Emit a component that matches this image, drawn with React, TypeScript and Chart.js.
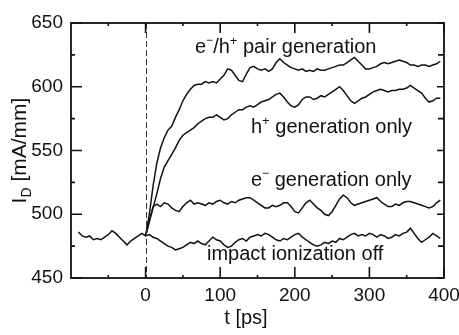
import { useEffect, useRef } from 'react';
import { Chart, registerables } from 'chart.js';

Chart.register(...registerables);

// ---- data (t in ps, I_D in mA/mm) ----
const T_PRE = [-90, -85, -80, -75, -70, -65, -60, -55, -50, -45, -40, -35, -30, -25, -20, -15, -10, -5];
const BASE_PRE = [486, 483, 482, 483, 480, 481, 480, 482, 484, 487, 485, 482, 479, 476, 479, 481, 483, 485];

const T = [
  0, 5, 10, 15, 20, 25, 30, 35, 40, 45, 50, 55, 60, 65, 70, 75, 80, 85, 90, 95,
  100, 105, 110, 115, 120, 125, 130, 135, 140, 145, 150, 155, 160, 165, 170, 175, 180, 185, 190, 195,
  200, 205, 210, 215, 220, 225, 230, 235, 240, 245, 250, 255, 260, 265, 270, 275, 280, 285, 290, 295,
  300, 305, 310, 315, 320, 325, 330, 335, 340, 345, 350, 355, 360, 365, 370, 375, 380, 385, 390, 395,
];

const OFF = [
  483, 484, 482, 481, 479, 477, 475, 474, 472, 473, 474, 476, 478, 477, 479, 477, 476, 479, 482, 480,
  479, 476, 474, 475, 478, 480, 481, 479, 482, 483, 484, 483, 485, 484, 482, 480, 479, 481, 480, 482,
  484, 485, 482, 480, 478, 476, 475, 476, 478, 477, 479, 478, 481, 480, 482, 484, 485, 483, 484, 483,
  485, 484, 482, 484, 483, 481, 482, 484, 483, 485, 486, 489, 485, 481, 478, 480, 482, 485, 483, 481,
];

const EGEN = [
  483, 495, 506, 508, 506, 509, 508, 505, 503, 502, 506, 509, 511, 508, 509, 508, 507, 509, 508, 510,
  511, 509, 508, 510, 509, 511, 512, 513, 513, 511, 509, 507, 505, 505, 507, 506, 507, 509, 509, 506,
  502, 501, 505, 509, 511, 508, 505, 503, 500, 499, 502, 507, 512, 515, 513, 509, 507, 508, 509, 510,
  511, 512, 513, 510, 508, 506, 506, 508, 507, 509, 510, 510, 509, 508, 507, 506, 505, 506, 509, 511,
];

const HGEN = [
  483, 494, 505, 516, 528, 537, 542, 547, 552, 558, 562, 564, 566, 568, 571, 573, 575, 576, 576, 578,
  576, 574, 575, 578, 580, 582, 582, 584, 585, 584, 586, 588, 589, 590, 592, 594, 595, 592, 588, 585,
  584, 586, 590, 592, 592, 590, 591, 593, 592, 594, 596, 598, 600, 597, 593, 589, 587, 589, 591, 592,
  594, 596, 597, 598, 597, 596, 597, 597, 598, 598, 599, 601, 599, 597, 595, 591, 588, 589, 591, 591,
];

const PAIR = [
  483, 500, 522, 540, 552, 560, 566, 569, 576, 582, 589, 594, 598, 601, 602, 602, 604, 603, 604, 603,
  606, 609, 614, 613, 609, 605, 604, 610, 615, 616, 614, 613, 614, 612, 614, 619, 622, 619, 617, 615,
  614, 613, 614, 612, 613, 612, 614, 613, 613, 614, 615, 616, 617, 617, 619, 621, 623, 620, 617, 614,
  614, 615, 616, 618, 619, 618, 619, 620, 621, 620, 619, 617, 617, 616, 617, 617, 616, 617, 618, 620,
];

const X_MAJOR = [0, 100, 200, 300, 400];
const X_MINOR = [-50, 50, 150, 250, 350];
const Y_MAJOR = [450, 500, 550, 600, 650];
const Y_MINOR = [475, 525, 575, 625];

const FONT = '"Liberation Sans", Arial, Helvetica, sans-serif';
const INK = '#111';

type Seg = { t: string; s: number; dy: number };

const LABELS: { segs: Seg[]; x: number; y: number }[] = [
  {
    segs: [
      { t: 'e', s: 20, dy: 0 },
      { t: '\u2212', s: 12, dy: -9 },
      { t: '/h', s: 20, dy: 0 },
      { t: '+', s: 13, dy: -8 },
      { t: ' pair generation', s: 20, dy: 0 },
    ],
    x: 195,
    y: 53,
  },
  {
    segs: [
      { t: 'h', s: 20, dy: 0 },
      { t: '+', s: 13, dy: -8 },
      { t: ' generation only', s: 20, dy: 0 },
    ],
    x: 251,
    y: 133,
  },
  {
    segs: [
      { t: 'e', s: 20, dy: 0 },
      { t: '\u2212', s: 12, dy: -9 },
      { t: ' generation only', s: 20, dy: 0 },
    ],
    x: 251,
    y: 186,
  },
  {
    segs: [{ t: 'impact ionization off', s: 20, dy: 0 }],
    x: 207,
    y: 260,
  },
];

function segWidth(ctx: CanvasRenderingContext2D, segs: Seg[]) {
  let w = 0;
  for (const g of segs) {
    ctx.font = `${g.s}px ${FONT}`;
    w += ctx.measureText(g.t).width;
  }
  return w;
}

function drawSegs(ctx: CanvasRenderingContext2D, segs: Seg[], x: number, y: number) {
  let cx = x;
  for (const g of segs) {
    ctx.font = `${g.s}px ${FONT}`;
    ctx.fillText(g.t, cx, y + g.dy);
    cx += ctx.measureText(g.t).width;
  }
}

const framePlugin = {
  id: 'frameDecor',
  afterDatasetsDraw(chart: any) {
    const ctx: CanvasRenderingContext2D = chart.ctx;
    const { left, right, top, bottom } = chart.chartArea;
    const xs = chart.scales.x;
    const ys = chart.scales.y;
    ctx.save();

    // dashed line at t = 0
    const x0 = xs.getPixelForValue(0);
    ctx.strokeStyle = '#333';
    ctx.lineWidth = 1;
    ctx.setLineDash([6, 3]);
    ctx.beginPath();
    ctx.moveTo(Math.round(x0) + 0.5, top);
    ctx.lineTo(Math.round(x0) + 0.5, bottom);
    ctx.stroke();
    ctx.setLineDash([]);

    // frame
    ctx.strokeStyle = INK;
    ctx.lineWidth = 1.8;
    ctx.strokeRect(left, top, right - left, bottom - top);

    // ticks (inward)
    ctx.lineWidth = 1.6;
    ctx.beginPath();
    for (const v of X_MAJOR) {
      const p = xs.getPixelForValue(v);
      ctx.moveTo(p, bottom); ctx.lineTo(p, bottom - 11);
      ctx.moveTo(p, top); ctx.lineTo(p, top + 10);
    }
    for (const v of X_MINOR) {
      const p = xs.getPixelForValue(v);
      ctx.moveTo(p, bottom); ctx.lineTo(p, bottom - 3);
      ctx.moveTo(p, top); ctx.lineTo(p, top + 3);
    }
    for (const v of Y_MAJOR) {
      const p = ys.getPixelForValue(v);
      ctx.moveTo(left, p); ctx.lineTo(left + 11, p);
      ctx.moveTo(right, p); ctx.lineTo(right - 7, p);
    }
    for (const v of Y_MINOR) {
      const p = ys.getPixelForValue(v);
      ctx.moveTo(left, p); ctx.lineTo(left + 4, p);
      ctx.moveTo(right, p); ctx.lineTo(right - 6, p);
    }
    ctx.stroke();

    // curve labels
    ctx.fillStyle = INK;
    ctx.textBaseline = 'alphabetic';
    ctx.textAlign = 'left';
    for (const l of LABELS) drawSegs(ctx, l.segs, l.x, l.y);

    // x axis title
    const xt: Seg[] = [{ t: 't [ps]', s: 20, dy: 0 }];
    drawSegs(ctx, xt, 246 - segWidth(ctx, xt) / 2, 324);

    // y axis title
    const yt: Seg[] = [
      { t: 'I', s: 21, dy: 0 },
      { t: 'D', s: 14, dy: 5 },
      { t: ' [mA/mm]', s: 21, dy: 0 },
    ];
    ctx.translate(26, (top + bottom) / 2);
    ctx.rotate(-Math.PI / 2);
    drawSegs(ctx, yt, -segWidth(ctx, yt) / 2, 0);

    ctx.restore();
  },
};

export default function App() {
  const ref = useRef<HTMLCanvasElement | null>(null);

  useEffect(() => {
    if (!ref.current) return;
    const line = (xs: number[], ys: number[], label: string) => ({
      label,
      data: xs.map((x, i) => ({ x, y: ys[i] })),
      borderColor: INK,
      borderWidth: 1.5,
      pointRadius: 0,
      tension: 0,
      fill: false,
    });
    const chart = new Chart(ref.current, {
      type: 'line',
      data: {
        datasets: [
          line([...T_PRE, ...T], [...BASE_PRE, ...OFF], 'impact ionization off'),
          line(T, EGEN, 'e- generation only'),
          line(T, HGEN, 'h+ generation only'),
          line(T, PAIR, 'e-/h+ pair generation'),
        ],
      },
      options: {
        animation: false,
        responsive: false,
        maintainAspectRatio: false,
        events: [],
        layout: { padding: { top: 23, right: 15, left: 0, bottom: 0 } },
        plugins: { legend: { display: false }, tooltip: { enabled: false }, title: { display: false } },
        scales: {
          x: {
            type: 'linear',
            min: -100,
            max: 400,
            grid: { display: false, drawTicks: false },
            border: { display: false },
            ticks: {
              stepSize: 100,
              autoSkip: false,
              maxRotation: 0,
              padding: 6,
              color: INK,
              font: { family: FONT, size: 19 },
              callback: (v: any) => (Number(v) < 0 ? '' : String(v)),
            },
            afterFit: (s: any) => {
              s.height = 57;
              s.paddingLeft = 0;
              s.paddingRight = 0;
            },
          },
          y: {
            type: 'linear',
            min: 450,
            max: 650,
            grid: { display: false, drawTicks: false },
            border: { display: false },
            ticks: {
              stepSize: 50,
              autoSkip: false,
              padding: 8,
              color: INK,
              font: { family: FONT, size: 19 },
            },
            afterFit: (s: any) => {
              s.width = 71;
              s.paddingTop = 0;
              s.paddingBottom = 0;
            },
          },
        },
      },
      plugins: [framePlugin],
    } as any);
    return () => chart.destroy();
  }, []);

  return (
    <div style={{ position: 'fixed', left: 0, top: 0, width: 459, height: 335, background: '#fff' }}>
      <canvas ref={ref} width={459} height={335} style={{ display: 'block', width: 459, height: 335 }} />
    </div>
  );
}
